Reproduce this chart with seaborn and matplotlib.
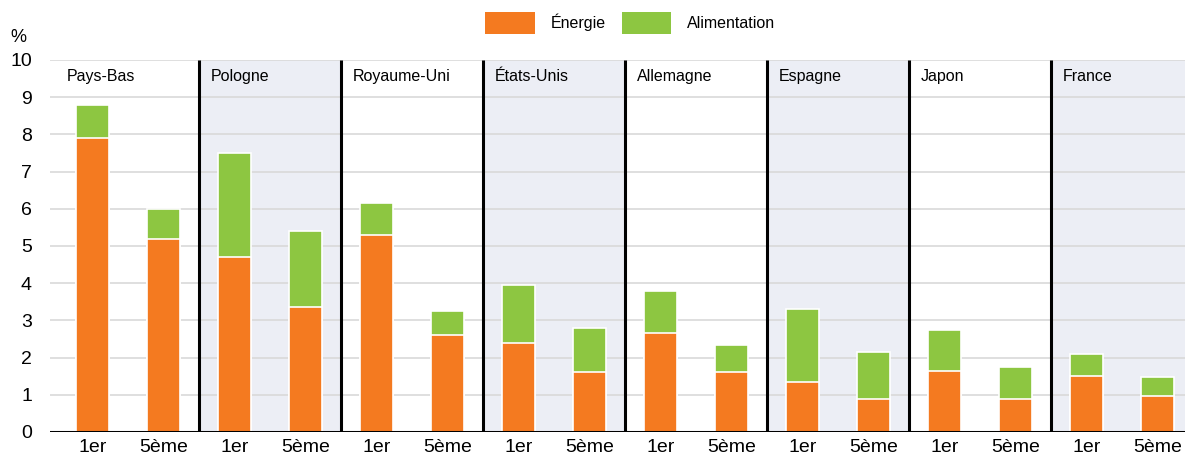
"""
Stacked bars: energy and food contributions by income quintile, per country.
"""

# === Imports ===

import pandas as pd
import numpy as np
from matplotlib import pyplot as plt
from matplotlib.patches import Patch
import seaborn as sns


# === Data ===

countries = ["Pays-Bas", "Pologne", "Royaume-Uni", "États-Unis",
             "Allemagne", "Espagne", "Japon", "France"]
quintiles = ["1er", "5ème"]

# one value per (country, quintile), in the order above
energie = [7.9, 5.2, 4.7, 3.35, 5.3, 2.6, 2.4, 1.6,
           2.65, 1.6, 1.35, 0.9, 1.65, 0.9, 1.5, 0.97]
alimentation = [0.9, 0.8, 2.8, 2.05, 0.85, 0.65, 1.55, 1.2,
                1.15, 0.75, 1.95, 1.25, 1.1, 0.85, 0.6, 0.5]

orange = "#F47A20"
green = "#8DC641"
shade = "#ECEEF5"


# === Plot ===

def build_frame():
    rows = []
    for i, c in enumerate(countries):
        for j, q in enumerate(quintiles):
            k = i * 2 + j
            rows.append({"key": c + "|" + q, "country": c, "quintile": q,
                         "energie": energie[k],
                         "total": energie[k] + alimentation[k]})
    return pd.DataFrame(rows)


def main():
    data = build_frame()
    plt.rcParams["font.family"] = ["Liberation Sans", "DejaVu Sans"]
    fig = plt.figure(figsize=(11.85, 4.54), dpi=100)
    ax = fig.add_axes([50 / 1185, 22 / 454, 1 - 50 / 1185, (432 - 60) / 454])

    n = len(data)
    xmin, xmax = -0.6, 15.39

    #== shaded background for every other country
    for i in range(len(countries)):
        if i % 2 == 1:
            ax.axvspan(i * 2 - 0.5, min(i * 2 + 1.5, xmax), color=shade, zorder=0, lw=0)

    #== grid lines
    for y in range(0, 11):
        ax.axhline(y, color="#D9D9D9", lw=1.2, zorder=1)

    #== bars: total (green) then energy (orange) on top
    order = list(data["key"])
    sns.barplot(data=data, x="key", y="total", order=order, color=green,
                width=0.465, edgecolor="white", linewidth=1.2, saturation=1,
                ax=ax, zorder=3)
    sns.barplot(data=data, x="key", y="energie", order=order, color=orange,
                width=0.465, edgecolor="white", linewidth=1.2, saturation=1,
                ax=ax, zorder=4)

    #== country separators and labels
    for i, c in enumerate(countries):
        if i > 0:
            ax.plot([i * 2 - 0.5, i * 2 - 0.5], [0, 10], color="black", lw=2.2,
                    zorder=5, solid_capstyle="butt")
        ax.text(i * 2 - 0.5 + 0.17 if i > 0 else -0.36, 9.55, c, fontsize=11.5,
                ha="left", va="center", zorder=6)

    ax.axhline(0, color="black", lw=2.2, zorder=6)

    ax.set_xlim(xmin, xmax)
    ax.set_ylim(0, 10)
    ax.set_yticks(range(0, 11))
    ax.set_xticks(range(n))
    ax.set_xticklabels([q for q in data["quintile"]])
    ax.tick_params(axis="both", length=0, labelsize=14)
    ax.tick_params(axis="x", pad=5)
    ax.tick_params(axis="y", pad=13)
    ax.set_xlabel("")
    ax.set_ylabel("")
    for s in ax.spines.values():
        s.set_visible(False)

    fig.text(18 / 1185, 1 - 37 / 454, "%", fontsize=13, ha="center", va="center")

    handles = [Patch(facecolor=orange, edgecolor="none"),
               Patch(facecolor=green, edgecolor="none")]
    fig.legend(handles, ["Énergie", "Alimentation"], loc="center",
               bbox_to_anchor=(0.532, 1 - 23 / 454), ncol=2, frameon=False,
               fontsize=11.5, handlelength=3.1, handleheight=1.75,
               handletextpad=1.0, columnspacing=1.0)

    fig.savefig("out.png", dpi=100)
    plt.close()


main()
